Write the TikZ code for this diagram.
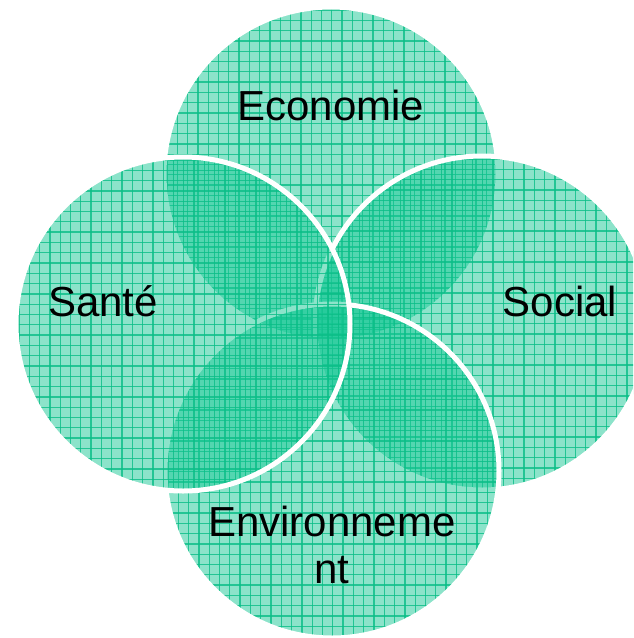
\documentclass[tikz,border=0pt]{standalone}
\usepackage{fontspec}
\setmainfont{Liberation Sans}
\definecolor{tealfill}{RGB}{26,200,150}
\definecolor{tealgrid}{RGB}{10,190,135}
\tikzset{
  circfill/.style={fill=tealfill, fill opacity=0.5},
  gridline/.style={draw=tealgrid, draw opacity=0.8, line width=1.3pt},
  rimline/.style={draw=white, line width=5pt},
  lbl/.style={font=\fontsize{42}{48}\selectfont, text=black, anchor=base, inner sep=0pt}
}
\newcommand\vennblob[2]{%
  \fill[circfill] (#1,#2) circle[radius=167pt];
  \begin{scope}
    \clip (#1,#2) circle[radius=167pt];
    \foreach \i in {0,...,33} {
      \draw[gridline] ({#1-167+3+\i*10.3},{#2-168}) -- ++(0,336);
      \draw[gridline] ({#1-168},{#2-167+3+\i*10.3}) -- ++(336,0);
    }
  \end{scope}
  \draw[rimline] (#1,#2) circle[radius=167pt];
}
\begin{document}
\begin{tikzpicture}[x=1pt,y=-1pt]
\path[use as bounding box] (0,0) rectangle (633,638);
\clip (0,0) rectangle (633,638);
\vennblob{331}{174}
\vennblob{482}{323}
\vennblob{332}{471}
\vennblob{183}{324}
\node[lbl] (eco) at (331,120) {Economie};
\node[lbl] (san) at (103,316) {Santé};
\node[lbl] (soc) at (560,316) {Social};
\node[lbl] (env1) at (332,536) {Environneme};
\node[lbl] (env2) at (332,583) {nt};
\end{tikzpicture}
\end{document}
